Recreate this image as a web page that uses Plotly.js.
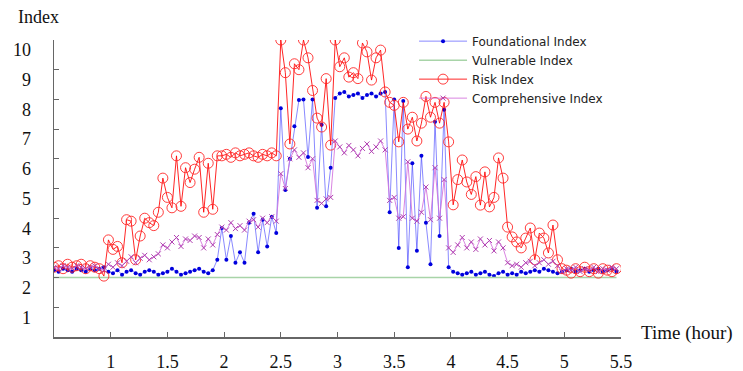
<!DOCTYPE html>
<html>
<head>
<meta charset="utf-8">
<script src="https://cdn.plot.ly/plotly-3.0.1.min.js"></script>
<style>html,body{margin:0;padding:0;background:#fff;}#chart{width:743px;height:371px;}</style>
</head>
<body>
<div id="chart"></div>
<script>
var timeHours = [0.50,0.54,0.58,0.62,0.66,0.70,0.74,0.78,0.82,0.86,0.90,0.94,0.98,1.02,1.06,1.10,1.14,1.18,1.22,1.26,1.30,1.34,1.38,1.42,1.46,1.50,1.54,1.58,1.62,1.66,1.70,1.74,1.78,1.82,1.86,1.90,1.94,1.98,2.02,2.06,2.10,2.14,2.18,2.22,2.26,2.30,2.34,2.38,2.42,2.46,2.50,2.54,2.58,2.62,2.66,2.70,2.74,2.78,2.82,2.86,2.90,2.94,2.98,3.02,3.06,3.10,3.14,3.18,3.22,3.26,3.30,3.34,3.38,3.42,3.46,3.50,3.54,3.58,3.62,3.66,3.70,3.74,3.78,3.82,3.86,3.90,3.94,3.98,4.02,4.06,4.10,4.14,4.18,4.22,4.26,4.30,4.34,4.38,4.42,4.46,4.50,4.54,4.58,4.62,4.66,4.70,4.74,4.78,4.82,4.86,4.90,4.94,4.98,5.02,5.06,5.10,5.14,5.18,5.22,5.26,5.30,5.34,5.38,5.42,5.46];

var foundationalIndex = [2.25,2.2,2.3,2.25,2.2,2.3,2.25,2.2,2.3,2.25,2.3,2.35,
  2.2,
  2.15,2.25,2.1,2.2,2.25,2.15,2.1,2.2,2.25,2.2,2.1,2.15,2.2,2.3,2.2,2.1,2.15,2.2,2.25,2.3,2.2,2.15,2.25,
  2.6,3.67,2.6,3.4,2.5,2.85,2.5,3.85,4.15,2.85,3.95,3.05,4.05,3.5,
  7.7,4.95,6.0,7.1,7.98,8.0,6.06,8.0,4.35,7.15,4.4,5.7,8.05,
  8.2,8.25,8.1,8.15,8.2,8.05,8.15,8.2,8.1,8.2,8.25,
  4.2,8.0,3.0,7.95,2.35,5.85,2.9,6.1,3.85,2.45,7.25,3.4,7.65,2.35,
  2.2,2.15,2.1,2.15,2.2,2.1,2.15,2.2,2.1,2.05,2.15,2.2,2.1,2.15,2.1,2.2,2.15,2.2,2.25,2.2,2.3,2.25,2.2,
  2.15,2.2,2.25,2.3,2.2,2.25,2.3,2.2,2.25,2.3,2.2,2.25,2.3,2.2];

var vulnerableTime = [0.50,5.46];
var vulnerableIndex = [2.0,2.0];

var riskIndex = [2.35,2.4,2.3,2.45,2.35,2.4,2.45,2.3,2.4,2.35,2.3,2.05,
  3.27,2.95,3.05,2.5,3.95,3.9,2.6,3.4,4.0,3.85,3.75,4.2,5.35,4.7,4.35,6.1,4.4,5.7,5.2,5.65,6.05,4.2,5.85,4.3,6.1,
  6.1,6.15,6.05,6.2,6.1,6.15,6.2,6.1,6.05,6.15,6.1,6.2,6.1,
  10.0,8.9,6.5,9.2,9.0,10.0,9.4,8.3,7.37,7.07,8.7,6.46,10.0,9.1,9.4,8.75,8.9,8.7,9.9,9.6,8.65,9.4,9.66,8.25,
  7.9,7.8,6.57,7.9,7.0,7.4,6.6,7.2,8.1,7.4,7.9,7.2,7.9,6.57,
  4.45,5.3,5.96,5.22,4.8,5.4,4.44,5.56,4.38,4.7,6.03,5.35,
  3.7,3.37,3.2,3.0,3.33,3.67,2.6,3.5,3.33,2.83,3.77,2.6,
  2.3,2.25,2.15,2.3,2.2,2.35,2.2,2.3,2.15,2.3,2.25,2.2,2.3];

var comprehensiveIndex = [2.35,2.3,2.4,2.35,2.3,2.4,2.35,2.3,2.35,2.4,2.3,2.25,
  2.45,2.35,2.5,2.4,2.55,2.7,2.5,2.65,2.75,2.6,2.7,2.8,3.1,3.0,3.2,3.35,3.05,3.3,3.25,3.4,3.35,3.0,3.3,3.1,3.45,
  3.7,3.6,3.85,3.65,3.75,3.6,3.9,3.95,3.7,4.0,3.85,4.05,3.9,
  5.5,5.0,6.0,6.3,6.05,6.2,5.7,6.0,4.6,4.5,4.65,4.7,6.6,
  6.4,6.2,6.45,6.3,6.1,6.35,6.5,6.25,6.4,6.6,6.3,
  4.6,4.7,4.0,4.05,5.9,4.0,3.9,4.2,5.05,3.95,5.7,4.0,5.3,3.0,
  2.85,3.1,3.35,3.0,3.2,2.95,3.3,3.1,3.25,2.9,3.2,3.0,
  2.5,2.4,2.45,2.35,2.5,2.55,2.4,2.5,2.6,2.45,2.55,2.4,
  2.2,2.3,2.25,2.35,2.2,2.3,2.25,2.35,2.2,2.3,2.25,2.35,2.3];

var xTickVals = [1,1.5,2,2.5,3,3.5,4,4.5,5,5.5];
var xTickText = ['1','1.5','2','2.5','3','3.5','4','4.5','5','5.5'];
var yTickVals = [1,2,3,4,5,6,7,8,9,10];
var yTickText = ['1','2','3','4','5','6','7','8','9','10'];

var serif = 'Liberation Serif, Times New Roman, serif';

var traces = [
  {x: timeHours, y: foundationalIndex, name: 'Foundational Index', mode: 'lines+markers',
   line: {color: 'rgba(40,40,255,0.55)', width: 1},
   marker: {color: '#0000dd', size: 4, symbol: 'circle'}},
  {x: vulnerableTime, y: vulnerableIndex, name: 'Vulnerable Index', mode: 'lines',
   line: {color: '#a8d4a8', width: 1.5}},
  {x: timeHours, y: riskIndex, name: 'Risk Index', mode: 'lines+markers',
   line: {color: 'rgba(255,0,0,0.85)', width: 1},
   marker: {color: 'rgba(255,40,40,0.9)', size: 10, symbol: 'circle-open', line: {width: 1}}},
  {x: timeHours, y: comprehensiveIndex, name: 'Comprehensive Index', mode: 'lines+markers',
   line: {color: 'rgba(210,110,220,0.85)', width: 1},
   marker: {color: '#b040b0', size: 5, symbol: 'x-thin-open', line: {width: 1, color: '#b040b0'}}}
];

var layout = {
  width: 743, height: 371,
  margin: {l: 54, r: 122, t: 40, b: 34},
  paper_bgcolor: '#fff', plot_bgcolor: '#fff',
  showlegend: true,
  legend: {x: 0.635, y: 1.045, xanchor: 'left', yanchor: 'top', bgcolor: 'rgba(255,255,255,0)',
           itemwidth: 48,
           font: {family: 'DejaVu Sans, Arial, sans-serif', size: 12, color: '#222'}},
  xaxis: {range: [0.5, 5.5], tickvals: xTickVals, ticktext: xTickText,
          showline: true, linecolor: '#666', linewidth: 1.5, mirror: false,
          ticks: 'inside', ticklen: 5, tickcolor: '#666', showgrid: false, zeroline: false,
          tickfont: {family: serif, size: 18, color: '#111'}, ticklabelstandoff: 8},
  yaxis: {range: [0, 10], tickvals: yTickVals, ticktext: yTickText,
          showline: true, linecolor: '#666', linewidth: 1.5,
          ticks: 'inside', ticklen: 5, tickcolor: '#666', showgrid: false, zeroline: false,
          tickfont: {family: serif, size: 18, color: '#111'}, ticklabelstandoff: 18, ticklabelshift: 10},
  annotations: [
    {text: 'Index', xref: 'paper', yref: 'paper', x: -0.028, y: 1.077, showarrow: false,
     xanchor: 'center', yanchor: 'middle', font: {family: serif, size: 18, color: '#111'}},
    {text: 'Time (hour)', xref: 'paper', yref: 'paper', x: 1.116, y: 0.013, showarrow: false,
     xanchor: 'center', yanchor: 'middle', font: {family: serif, size: 19, color: '#111'}}
  ]
};

Plotly.newPlot('chart', traces, layout, {displayModeBar: false, staticPlot: true});
</script>
</body>
</html>
